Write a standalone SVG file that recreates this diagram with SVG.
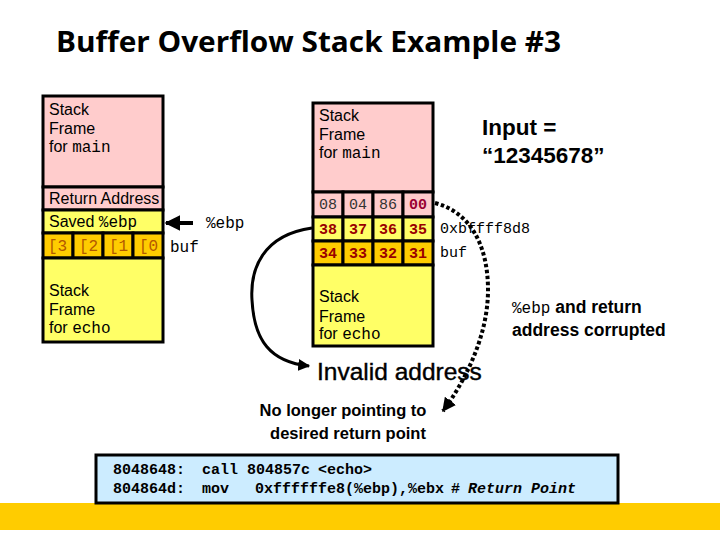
<svg xmlns="http://www.w3.org/2000/svg" width="720" height="540" viewBox="0 0 720 540">
<defs>
<style>
.sans{font-family:"Liberation Sans",Arial,sans-serif;fill:#000}
.mono{font-family:"Liberation Mono","Courier New",monospace;fill:#000}
.lbl{font-size:16px}
.pink{fill:#FFCCCC;stroke:#000;stroke-width:3}
.yel{fill:#FFFF66;stroke:#000;stroke-width:3}
.org{fill:#FFCC00;stroke:#000;stroke-width:3}
.cell{font-family:"Liberation Mono","Courier New",monospace;font-size:15px;text-anchor:middle}
.bold{font-weight:bold;fill:#990000}
.bufl{font-family:"Liberation Mono","Courier New",monospace;font-size:16px;fill:#B35900}
</style>
<marker id="ah" viewBox="0 0 10 10" refX="9" refY="5" markerWidth="4" markerHeight="4" orient="auto" markerUnits="strokeWidth">
<path d="M0,0 L10,5 L0,10 z" fill="#000"/>
</marker>
<marker id="ahd" viewBox="0 0 10 10" refX="9" refY="5" markerWidth="3.5" markerHeight="3.5" orient="auto" markerUnits="strokeWidth">
<path d="M0,0 L10,5 L0,10 z" fill="#000"/>
</marker>
</defs>
<rect width="720" height="540" fill="#fff"/>
<rect x="0" y="503" width="720" height="27" fill="#FFCC00"/>

<g id="title">
<text x="56" y="52" font-family="'Open Sans','Liberation Sans',sans-serif" font-weight="bold" font-size="28" textLength="505" lengthAdjust="spacingAndGlyphs">Buffer Overflow Stack Example #3</text>
</g>

<g id="left-stack">
<rect class="pink" x="43" y="96" width="120" height="91"/>
<rect class="pink" x="43" y="187" width="120" height="23"/>
<rect class="yel" x="43" y="210" width="120" height="23"/>
<rect class="org" x="43" y="233" width="30" height="25"/>
<rect class="org" x="73" y="233" width="30" height="25"/>
<rect class="org" x="103" y="233" width="30" height="25"/>
<rect class="org" x="133" y="233" width="30" height="25"/>
<rect class="yel" x="43" y="258" width="120" height="84"/>
<text class="sans lbl" x="49" y="115">Stack</text>
<text class="sans lbl" x="49" y="134">Frame</text>
<text class="sans lbl" x="49" y="152">for <tspan class="mono">main</tspan></text>
<text class="sans lbl" x="49" y="204">Return Address</text>
<text class="sans lbl" x="49" y="227">Saved <tspan class="mono">%ebp</tspan></text>
<text class="bufl" x="48" y="251">[3</text>
<text class="bufl" x="79" y="251">[2</text>
<text class="bufl" x="109" y="251">[1</text>
<text class="bufl" x="139" y="251">[0</text>
<text class="sans lbl" x="49" y="296">Stack</text>
<text class="sans lbl" x="49" y="315">Frame</text>
<text class="sans lbl" x="49" y="333">for <tspan class="mono">echo</tspan></text>
<text class="mono lbl" x="170" y="252">buf</text>
<text class="mono lbl" x="206" y="228">%ebp</text>
</g>

<g id="right-stack">
<rect class="pink" x="313" y="103" width="120" height="89"/>
<rect class="pink" x="313" y="192" width="30" height="25"/>
<rect class="pink" x="343" y="192" width="30" height="25"/>
<rect class="pink" x="373" y="192" width="30" height="25"/>
<rect class="pink" x="403" y="192" width="30" height="25"/>
<rect class="yel" x="313" y="217" width="30" height="24"/>
<rect class="yel" x="343" y="217" width="30" height="24"/>
<rect class="yel" x="373" y="217" width="30" height="24"/>
<rect class="yel" x="403" y="217" width="30" height="24"/>
<rect class="org" x="313" y="241" width="30" height="24"/>
<rect class="org" x="343" y="241" width="30" height="24"/>
<rect class="org" x="373" y="241" width="30" height="24"/>
<rect class="org" x="403" y="241" width="30" height="24"/>
<rect class="yel" x="313" y="265" width="120" height="81"/>
<text class="sans lbl" x="319" y="121">Stack</text>
<text class="sans lbl" x="319" y="140">Frame</text>
<text class="sans lbl" x="319" y="158">for <tspan class="mono">main</tspan></text>
<text class="cell" x="328" y="209" fill="#333">08</text>
<text class="cell" x="358" y="209" fill="#333">04</text>
<text class="cell" x="388" y="209" fill="#333">86</text>
<text class="cell bold" x="418" y="209" style="fill:#990033">00</text>
<text class="cell bold" x="328" y="234">38</text>
<text class="cell bold" x="358" y="234">37</text>
<text class="cell bold" x="388" y="234">36</text>
<text class="cell bold" x="418" y="234">35</text>
<text class="cell bold" x="328" y="258">34</text>
<text class="cell bold" x="358" y="258">33</text>
<text class="cell bold" x="388" y="258">32</text>
<text class="cell bold" x="418" y="258">31</text>
<text class="sans lbl" x="319" y="302">Stack</text>
<text class="sans lbl" x="319" y="322">Frame</text>
<text class="sans lbl" x="319" y="339">for <tspan class="mono">echo</tspan></text>
<text class="mono" font-size="15" x="440" y="233">0xbffff8d8</text>
<text class="mono" font-size="15" x="440" y="257">buf</text>
</g>

<g id="input-label">
<text class="sans" font-weight="bold" font-size="22.5" x="482" y="135">Input =</text>
<text class="sans" font-weight="bold" font-size="22.5" x="482" y="163">“12345678”</text>
</g>

<g id="corrupted-label">
<text class="sans" font-weight="bold" font-size="17.5" x="512" y="313"><tspan class="mono" font-weight="normal" font-size="16">%ebp</tspan> and return</text>
<text class="sans" font-weight="bold" font-size="17.5" x="512" y="336">address corrupted</text>
</g>

<g id="invalid-label">
<text class="sans" font-size="24.5" x="317" y="380" stroke="#000" stroke-width="0.4">Invalid address</text>
</g>

<g id="nolonger-label">
<text class="sans" font-weight="bold" font-size="16.5" x="343" y="416" text-anchor="middle">No longer pointing to</text>
<text class="sans" font-weight="bold" font-size="16.5" x="348" y="439" text-anchor="middle">desired return point</text>
</g>

<g id="code-box">
<rect x="96" y="455" width="522" height="48" fill="#CCECFF" stroke="#000" stroke-width="3"/>
<text class="mono" font-weight="bold" font-size="15" y="474"><tspan x="113">8048648:</tspan><tspan x="202">call</tspan><tspan x="247">804857c</tspan><tspan x="318">&lt;echo&gt;</tspan></text>
<text class="mono" font-weight="bold" font-size="15" y="493"><tspan x="113">804864d:</tspan><tspan x="202">mov</tspan><tspan x="255">0xffffffe8(%ebp),%ebx</tspan><tspan x="451">#</tspan><tspan x="468" font-style="italic">Return Point</tspan></text>
</g>

<g id="connectors" fill="none" stroke="#000">
<line x1="193" y1="223" x2="166" y2="223" stroke-width="4" marker-end="url(#ah)"/>
<path d="M312,228 C262,235 250,270 252,300 C254,340 270,362 309,366" stroke-width="3" marker-end="url(#ah)"/>
<path d="M435,203 C470,212 488,245 488,290 C488,335 466,380 443,411" stroke-width="4" stroke-dasharray="3.5 2.5" marker-end="url(#ahd)"/>
</g>
</svg>
